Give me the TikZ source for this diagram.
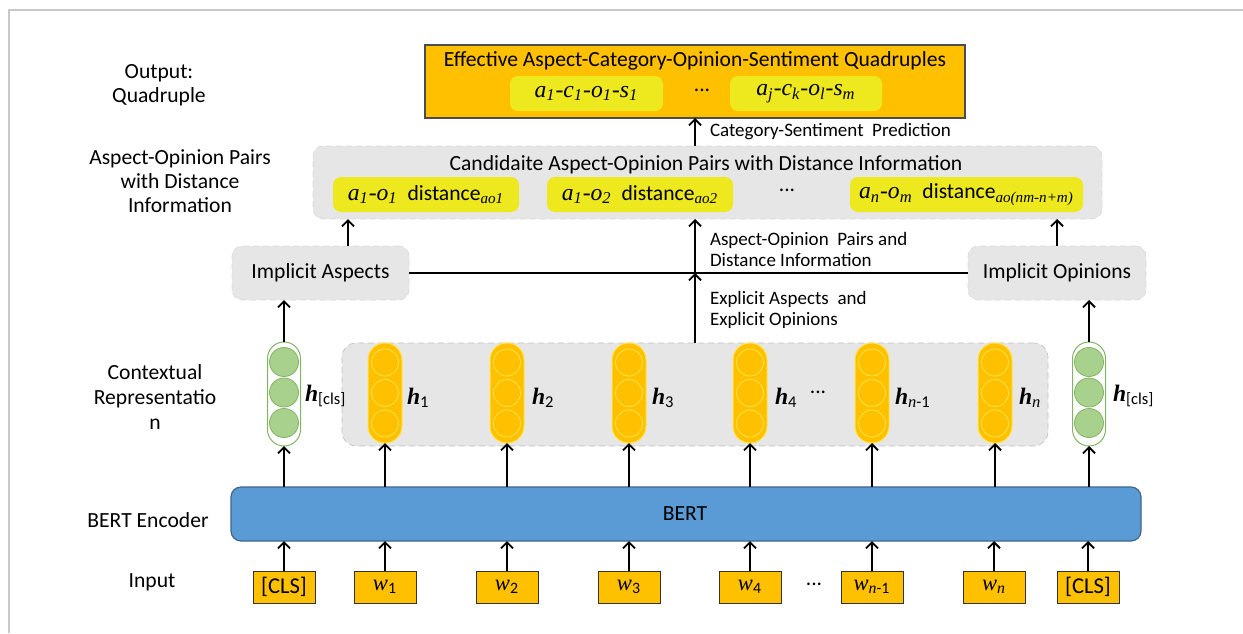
\documentclass[tikz,border=0pt]{standalone}
\usepackage{fontspec}
\setmainfont{Carlito}
\newfontfamily\tnr{Liberation Serif}
\usetikzlibrary{arrows.meta,calc}
\definecolor{gold}{RGB}{255,192,0}
\definecolor{ylw}{RGB}{238,232,30}
\definecolor{lgray}{RGB}{231,230,230}
\definecolor{bblue}{RGB}{91,155,213}
\definecolor{bborder}{RGB}{65,100,140}
\definecolor{gfill}{RGB}{169,209,142}
\definecolor{gline}{RGB}{130,180,100}
\definecolor{framec}{RGB}{200,200,200}
\definecolor{pillline}{RGB}{255,228,70}
\newcommand\mi[1]{{\tnr\itshape #1}}
\newcommand\mis[1]{{\tnr\itshape\fontsize{11.8}{13}\selectfont #1}}
\newcommand\hb{{\tnr\bfseries\itshape h}}
\newcommand\sbs[1]{\textsubscript{#1}}
\begin{document}
\begin{tikzpicture}[x=0.5pt,y=-0.5pt,
 every node/.style={font=\fontsize{10.8}{12}\selectfont, inner sep=0pt, outer sep=0pt},
 lbl/.style={align=center},
 graybox/.style={fill=lgray, draw=black!15, densely dashed, line width=0.3pt, rounded corners=5pt},
 ybox/.style={fill=ylw, rounded corners=4pt},
 inbox/.style={fill=gold, draw=black!80, line width=0.5pt, minimum width=31pt, minimum height=16pt, font=\fontsize{11.3}{12}\selectfont},
 pill/.style={fill=gold, draw=pillline, line width=0.5pt, rounded corners=8.4pt, minimum width=17pt, minimum height=50pt},
 gpill/.style={fill=white, draw=gline, line width=0.5pt, rounded corners=8.2pt, minimum width=16.5pt, minimum height=52pt},
 pc/.style={circle, draw=pillline, line width=0.4pt, minimum size=13.5pt},
 gc/.style={circle, fill=gfill, draw=gline, line width=0.4pt, minimum size=14.5pt},
 arr/.style={line width=0.9pt, -{Straight Barb[length=3pt,width=6pt]}},
 ann/.style={font=\fontsize{9.5}{10.5}\selectfont, align=left, anchor=west},
 hl/.style={anchor=west, font=\fontsize{11.8}{13}\selectfont}
]
\useasboundingbox (0,0) rectangle (1243,633);
\draw[framec, line width=1pt] (9,633) -- (9,10) -- (1243,10);

% left labels
\node[lbl] (l1) at (159,85) {Output:\\Quadruple};
\node[lbl] (l2) at (180,181) {Aspect-Opinion Pairs\\with Distance\\Information};
\node[lbl, align=center, font=\fontsize{10.8}{12.5}\selectfont] (l3) at (155,396.5) {Contextual\\Representatio\\n};
\node (l4) at (148,520) {BERT Encoder};
\node (l5) at (152,582) {Input};

% top output box
\node[fill=gold, draw=black!70, line width=0.6pt, minimum width=270pt, minimum height=36.5pt] (top) at (695,81.5) {};
\node (toptitle) at (695,61) {Effective Aspect-Category-Opinion-Sentiment Quadruples};
\node[ybox, minimum width=76.5pt, minimum height=17.5pt] (q1) at (586.5,93.5) {\mis{a\sbs{1}-c\sbs{1}-o\sbs{1}-s\sbs{1}}};
\node (qd) at (702,90) {...};
\node[ybox, minimum width=76pt, minimum height=17.5pt] (q2) at (806,93.5) {\mis{a\sbs{j}-c\sbs{k}-o\sbs{l}-s\sbs{m}}};

% candidate box
\node[graybox, minimum width=394.5pt, minimum height=36.5pt] (cand) at (707.5,182.5) {};
\node (candt) at (706,165) {Candidaite Aspect-Opinion Pairs with Distance Information};
\node[ybox, minimum width=93pt, minimum height=17.5pt] (p1) at (426,194.5) {\mis{a\sbs{1}-o\sbs{1}}\ \ distance\sbs{\mi{ao1}}};
\node[ybox, minimum width=93pt, minimum height=17.5pt] (p2) at (640,194.5) {\mis{a\sbs{1}-o\sbs{2}}\ \ distance\sbs{\mi{ao2}}};
\node (pd) at (787,190) {...};
\node[ybox, minimum width=116.5pt, minimum height=17.5pt] (p3) at (966.5,194.5) {\mis{a\sbs{n}-o\sbs{m}}\ \ distance\sbs{\mi{ao(nm-n+m)}}};

% implicit boxes
\node[graybox, minimum width=88.5pt, minimum height=27pt] (impA) at (320.5,273) {Implicit Aspects};
\node[graybox, minimum width=89pt, minimum height=27pt] (impO) at (1057,273) {Implicit Opinions};

% hidden states
\node[graybox, draw=black!25, rounded corners=7pt, minimum width=353pt, minimum height=51.5pt] (hid) at (695,394.5) {};
\foreach \nm/\xx in {h1/385, h2/507, h3/629, h4/750, hm/872, hn/995} {
  \node[pill] (\nm) at (\xx,393) {};
  \foreach \yy in {362.5,393,423.5} \node[pc] at (\xx,\yy) {};
}
\foreach \nm/\xx in {gl/284, gr/1089} {
  \node[gpill] (\nm) at (\xx,394) {};
  \foreach \yy in {362,392.5,423} \node[gc] at (\xx,\yy) {};
}
\node[hl] (th0) at (305,396) {\hb\sbs{[cls]}};
\node[hl] (th1) at (407,398) {\hb\sbs{1}};
\node[hl] (th2) at (532,398) {\hb\sbs{2}};
\node[hl] (th3) at (652,398) {\hb\sbs{3}};
\node[hl] (th4) at (775,398) {\hb\sbs{4}};
\node (hd) at (818,392) {...};
\node[hl] (thm) at (895,398) {\hb\sbs{\mi{n}-1}};
\node[hl] (thn) at (1019,398) {\hb\sbs{\mi{n}}};
\node[hl] (thc) at (1113,396) {\hb\sbs{[cls]}};

% BERT
\node[fill=bblue, draw=bborder, line width=0.6pt, rounded corners=5pt, minimum width=455pt, minimum height=27pt] (bert) at (686,514) {};
\node (bertt) at (685,514) {BERT};

% inputs
\node[inbox] (i0) at (284,587) {[CLS]};
\node[inbox] (i1) at (385,587) {\mi{w}\sbs{1}};
\node[inbox] (i2) at (507,587) {\mi{w}\sbs{2}};
\node[inbox] (i3) at (629,587) {\mi{w}\sbs{3}};
\node[inbox] (i4) at (750,587) {\mi{w}\sbs{4}};
\node (id) at (814,584) {...};
\node[inbox] (im) at (872,587) {\mi{w}\sbs{\mi{n}-1}};
\node[inbox] (in) at (994,587) {\mi{w}\sbs{\mi{n}}};
\node[inbox] (ic) at (1088,587) {[CLS]};

% arrows
\foreach \a/\b in {i0/gl, i1/h1, i2/h2, i3/h3, i4/h4, im/hm, in/hn, ic/gr} {
  \draw[arr] (\a.north) -- (\a.north |- bert.south);
  \draw[arr] (\b.south |- bert.north) -- (\b.south);
}
\draw[arr] (gl.north) -- (gl.north |- impA.south);
\draw[arr] (gr.north) -- (gr.north |- impO.south);
\draw[arr] ([xshift=13.75pt]impA.north) -- ([xshift=13.75pt]impA.north |- cand.south);
\draw[arr] (impO.north) -- (impO.north |- cand.south);
\draw[line width=0.9pt] (impA.east) -- (impO.west);
\coordinate (jn) at (695,273);
\draw[arr] (jn |- hid.north) -- (jn);
\draw[arr] (jn) -- (jn |- cand.south);
\draw[arr] (jn |- cand.north) -- (jn |- top.south);

% annotations
\node[ann] (a1) at (710,132) {Category-Sentiment\ \ Prediction};
\node[ann] (a2) at (710,249.5) {Aspect-Opinion\ \ Pairs and\\Distance Information};
\node[ann] (a3) at (710,310) {Explicit Aspects\ \ and\\Explicit Opinions};
\end{tikzpicture}
\end{document}
